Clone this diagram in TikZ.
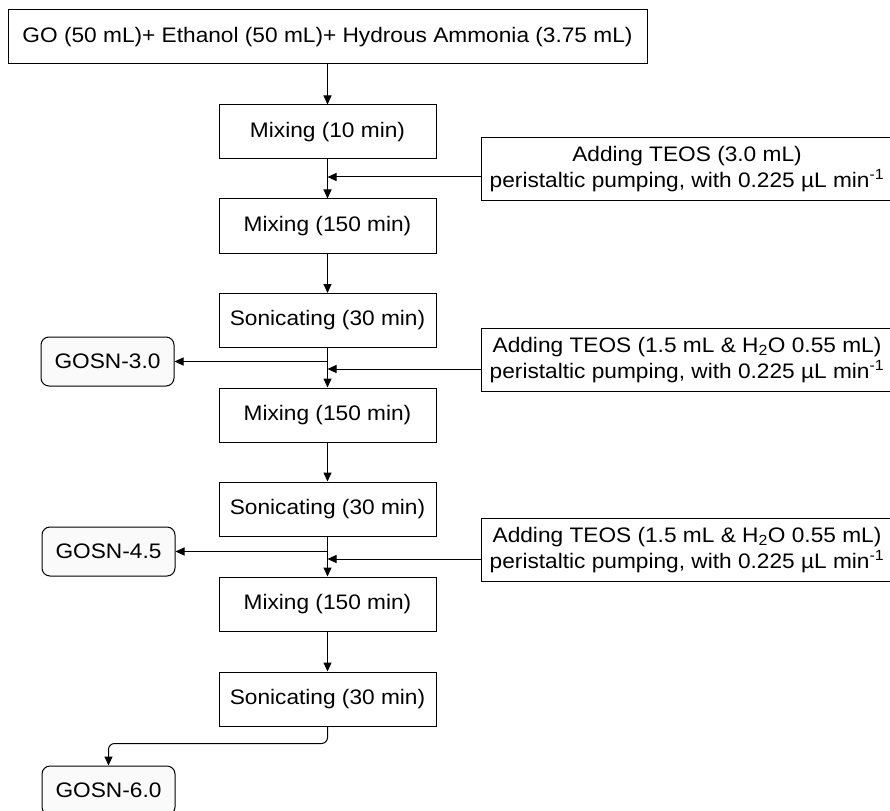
\documentclass[tikz,border=0pt]{standalone}
\usepackage{fontspec}
\setmainfont{Liberation Sans}[FakeStretch=1.08]
\usetikzlibrary{arrows.meta}

\begin{document}
\begin{tikzpicture}[x=1pt, y=-1pt,
    every node/.style={font=\fontsize{21}{26}\selectfont},
    stepbox/.style={draw, line width=1pt, minimum width=217pt, minimum height=54pt, inner sep=0pt},
    addbox/.style={draw, line width=1pt, minimum width=412pt, minimum height=63pt, inner sep=0pt, align=center},
    prodbox/.style={draw, line width=1pt, rounded corners=8pt, fill=gray!4, minimum width=133pt, minimum height=49pt, inner sep=0pt},
    arr/.style={line width=1pt, -{Triangle[length=9pt,width=8pt]}}]
  \useasboundingbox (0,0) rectangle (890,810);

  % Starting mixture
  \node[stepbox, minimum width=639pt] (top) at (327.5,37) {GO (50 mL)+ Ethanol (50 mL)+ Hydrous Ammonia (3.75 mL)};

  % Main column of steps
  \foreach \name/\y/\txt in {mixa/132/Mixing (10 min), mixb/226/Mixing (150 min), sona/320.5/Sonicating (30 min),
      mixc/415/Mixing (150 min), sonb/509/Sonicating (30 min), mixd/604/Mixing (150 min), sonc/699/Sonicating (30 min)} {
    \node[stepbox] (\name) at (327.5,\y) {\txt};
  }
  \foreach \a/\b in {top/mixa, mixa/mixb, mixb/sona, sona/mixc, mixc/sonb, sonb/mixd, mixd/sonc} {
    \draw[arr] (\a.south) -- (\b.north);
  }

  % TEOS additions
  \node[addbox] (adda) at (687,169) {Adding TEOS (3.0 mL)\\peristaltic pumping, with 0.225 µL min\textsuperscript{-1}};
  \node[addbox] (addb) at (687,360) {Adding TEOS (1.5 mL \& H\textsubscript{2}O 0.55 mL)\\peristaltic pumping, with 0.225 µL min\textsuperscript{-1}};
  \node[addbox] (addc) at (687,550) {Adding TEOS (1.5 mL \& H\textsubscript{2}O 0.55 mL)\\peristaltic pumping, with 0.225 µL min\textsuperscript{-1}};
  \draw[arr] ([yshift=-8pt]adda.west) -- ([yshift=-8pt]adda.west -| mixa.south);
  \draw[arr] ([yshift=-9pt]addb.west) -- ([yshift=-9pt]addb.west -| sona.south);
  \draw[arr] ([yshift=-9pt]addc.west) -- ([yshift=-9pt]addc.west -| sonb.south);

  % Products
  \node[prodbox] (gosna) at (107.5,361.5) {GOSN-3.0};
  \node[prodbox] (gosnb) at (108.5,551.5) {GOSN-4.5};
  \node[prodbox] (gosnc) at (108.5,790.5) {GOSN-6.0};
  \draw[arr] (sona.south |- gosna.east) -- (gosna.east);
  \draw[arr] (sonb.south |- gosnb.east) -- (gosnb.east);
  \draw[arr, rounded corners=6pt] (sonc.south) -- ++(0,17) -| (gosnc.north);
\end{tikzpicture}
\end{document}
